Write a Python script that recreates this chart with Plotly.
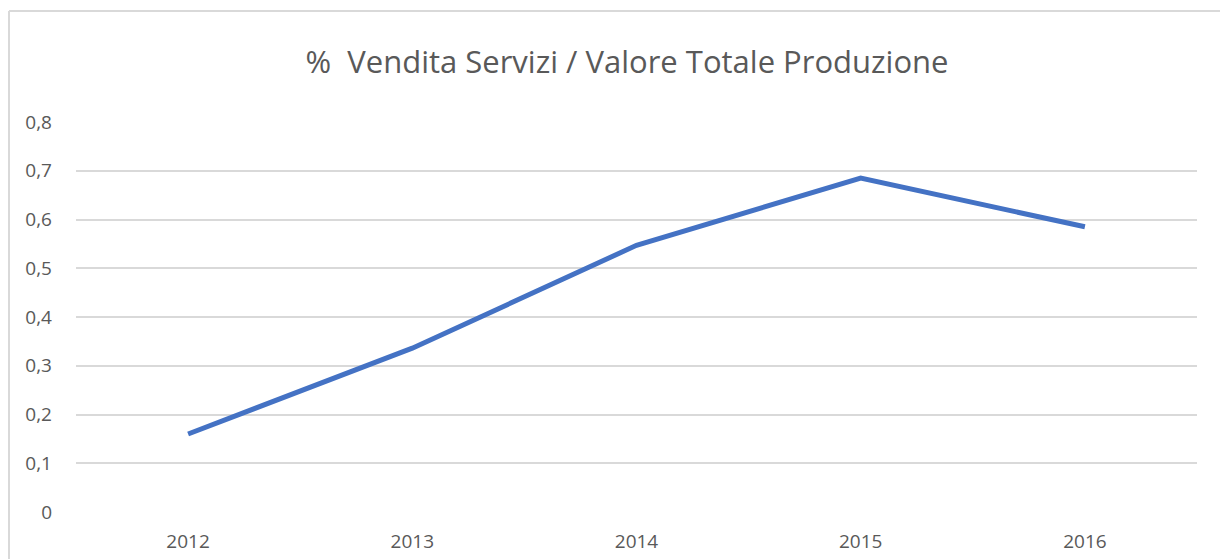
import plotly.graph_objects as go

years = ["2012", "2013", "2014", "2015", "2016"]
ratio = [0.16, 0.336, 0.547, 0.685, 0.585]
y_ticks = [0, 0.1, 0.2, 0.3, 0.4, 0.5, 0.6, 0.7, 0.8]
title_text = "%  Vendita Servizi / Valore Totale Produzione"

# page offset of the figure (browser body margin)
OFF = 8
W, H = 1228 - OFF, 559 - OFF
L, R, T, B = 76 - OFF, 31, 122 - OFF, 47
pw, ph = W - L - R, H - T - B

def px_x(px):
    return (px - OFF - L) / pw

def px_y(py):
    return (H - B - (py - OFF)) / ph

fig = go.Figure()
fig.add_trace(go.Scatter(
    x=years, y=ratio, mode="lines",
    line=dict(color="#4472C4", width=5, shape="linear"),
    showlegend=False, hoverinfo="x+y",
))

fig.update_layout(
    width=W, height=H,
    margin=dict(l=L, r=R, t=T, b=B),
    paper_bgcolor="white", plot_bgcolor="white",
    separators=", ",
    font=dict(family="Open Sans, Liberation Sans, sans-serif", color="#595959"),
    title=dict(text=title_text, x=px_x(627), xanchor="center", xref="paper",
               y=1 - (62 - OFF) / H, yanchor="middle", yref="container",
               font=dict(size=31, color="#595959")),
    xaxis=dict(type="category", range=[-0.5, 4.5], showgrid=False, zeroline=False,
               showline=False, ticks="", tickfont=dict(size=19, color="#595959"),
               ticklabelstandoff=16, automargin=False),
    yaxis=dict(range=[0, 0.8], tickvals=y_ticks, showgrid=True, gridcolor="#d9d9d9",
               gridwidth=1.5, zeroline=False, showline=False, ticks="",
               tickfont=dict(size=19, color="#595959"), ticklabelstandoff=23,
               automargin=False),
    shapes=[
        dict(type="line", xref="paper", yref="paper",
             x0=px_x(9), x1=px_x(1300), y0=px_y(11), y1=px_y(11),
             line=dict(color="#d9d9d9", width=2)),
        dict(type="line", xref="paper", yref="paper",
             x0=px_x(9), x1=px_x(9), y0=px_y(11), y1=px_y(600),
             line=dict(color="#d9d9d9", width=2)),
    ],
)

fig.write_html("out.html")
